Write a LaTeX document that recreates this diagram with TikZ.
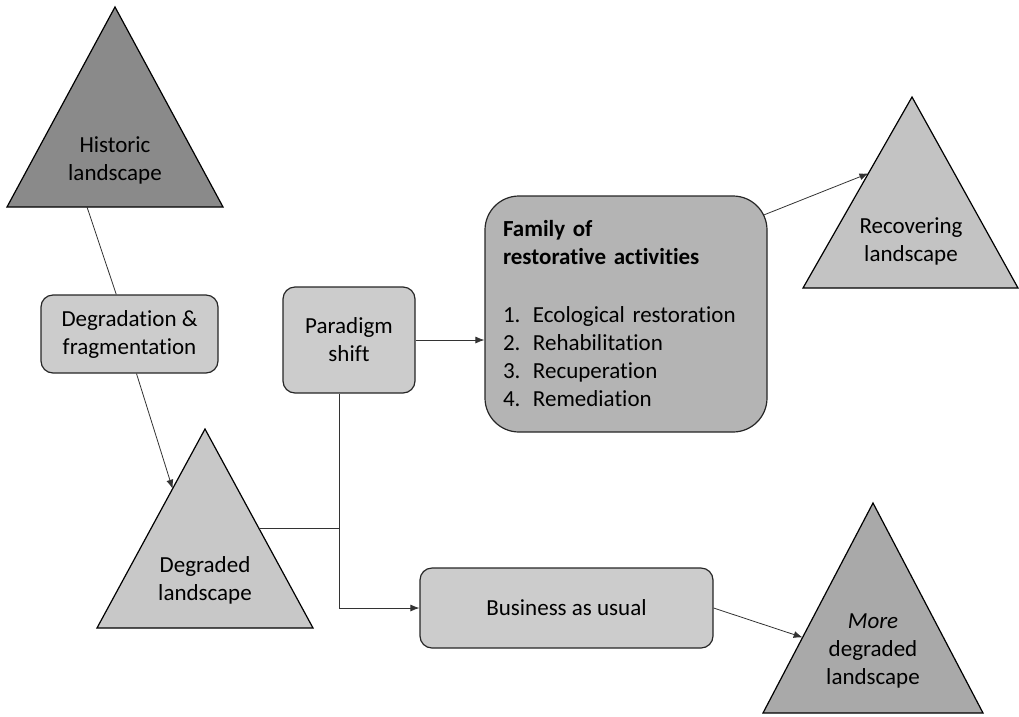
\documentclass[tikz,border=0pt]{standalone}
\usepackage{fontspec}
\setmainfont{Carlito}[RawFeature={-liga;-clig;-dlig;-calt;-rlig}]
\usetikzlibrary{arrows.meta,calc}
\definecolor{histgray}{HTML}{8A8A8A}
\definecolor{moregray}{HTML}{A9A9A9}
\definecolor{famgray}{HTML}{B4B4B4}
\definecolor{recgray}{HTML}{C3C3C3}
\definecolor{degrgray}{HTML}{C8C8C8}
\definecolor{boxgray}{HTML}{CCCCCC}
\newcommand\myfs{\fontsize{23}{28}\selectfont}
\begin{document}
\begin{tikzpicture}[x=1pt,y=-1pt,
  tri/.style={draw=black, line width=1.2pt, line join=miter},
  lbl/.style={align=center, font=\myfs, inner sep=0pt},
  box/.style={draw=black!85, line width=1.2pt, fill=boxgray, rounded corners=12pt,
    align=center, font=\myfs, inner sep=0pt},
  conn/.style={draw=black!80, line width=0.8pt},
  arr/.style={conn, -{Latex[length=9pt,width=7pt]}}
]
\useasboundingbox (0,0) rectangle (1019,716);

% triangles
\coordinate (hA) at (115,7);   \coordinate (hL) at (7,207);   \coordinate (hR) at (223,207);
\coordinate (dA) at (205,429); \coordinate (dL) at (97,628);  \coordinate (dR) at (313,628);
\coordinate (rA) at (912,97);  \coordinate (rL) at (803,288); \coordinate (rR) at (1018,288);
\coordinate (mA) at (873,503); \coordinate (mL) at (763,713); \coordinate (mR) at (983,713);

\filldraw[tri, fill=histgray] (hA) -- (hL) -- (hR) -- cycle;
\filldraw[tri, fill=degrgray] (dA) -- (dL) -- (dR) -- cycle;
\filldraw[tri, fill=recgray] (rA) -- (rL) -- (rR) -- cycle;
\filldraw[tri, fill=moregray] (mA) -- (mL) -- (mR) -- cycle;

\node[lbl] (hist) at (115,160) {Historic\\landscape};
\node[lbl] (degr) at (205,580) {Degraded\\landscape};
\node[lbl] (rec) at (911,241) {Recovering\\landscape};
\node[lbl] (more) at (873,651) {\textit{More}\\degraded\\landscape};

% boxes
\node[box, minimum width=177pt, minimum height=78pt] (deg) at (129.5,334) {Degradation \&\\fragmentation};
\node[box, minimum width=132pt, minimum height=106pt] (par) at (349,340) {Paradigm\\shift};
\node[box, minimum width=293pt, minimum height=80pt] (bau) at (566.5,608) {Business as usual};
\node[draw=black!85, line width=1.2pt, fill=famgray, rounded corners=34pt,
  minimum width=282pt, minimum height=236pt, inner xsep=18pt, inner ysep=0pt,
  text width=246pt, align=left, font=\myfs] (fam) at (626,314)
  {\textbf{Family of}\\
   \textbf{restorative activities}\\[30pt]
   \makebox[30pt][l]{1.}Ecological restoration\\
   \makebox[30pt][l]{2.}Rehabilitation\\
   \makebox[30pt][l]{3.}Recuperation\\
   \makebox[30pt][l]{4.}Remediation};

% connector points
\coordinate (h1) at (87,207);
\coordinate (dIn) at ($(dA)!0.3!(dL)$);
\coordinate (dOut) at ($(dA)!0.5!(dR)$);
\coordinate (rIn) at ($(rA)!0.4!(rL)$);
\coordinate (mIn) at ($(mA)!0.64!(mL)$);
\coordinate (pb) at ($(par.south)+(-10,0)$);
\coordinate (fOut) at ($(fam.35)+(-3.5,0)$);

% connectors
\draw[conn] (h1) -- (deg);
\draw[arr] (deg.-80) -- (dIn);
\draw[conn] (dOut) -- (dOut -| pb);
\draw[arr] (pb) |- (bau.west);
\draw[arr] (par.east) -- (par.east -| fam.west);
\draw[arr] (fOut) -- (rIn);
\draw[arr] (bau.east) -- (mIn);
\end{tikzpicture}
\end{document}
